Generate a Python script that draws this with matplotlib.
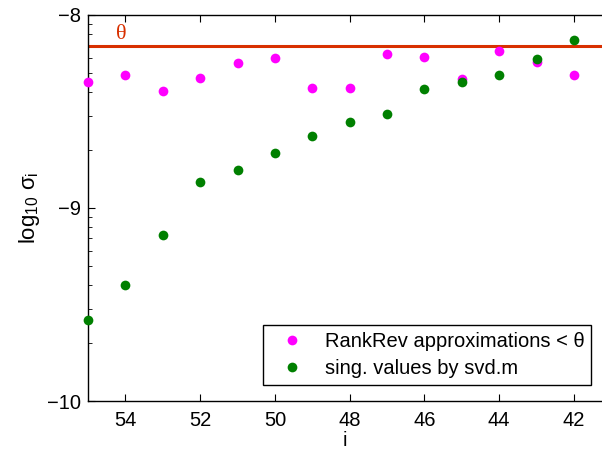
import numpy as np
import matplotlib
matplotlib.use("Agg")
import matplotlib.pyplot as plt
from matplotlib.ticker import FixedLocator, FuncFormatter, LogLocator, NullFormatter

plt.rcParams['font.family'] = ['Liberation Sans', 'DejaVu Sans']
plt.rcParams['mathtext.fontset'] = 'custom'
plt.rcParams['mathtext.rm'] = 'Liberation Sans'
plt.rcParams['mathtext.it'] = 'Liberation Sans'

# index i (reversed axis) and log10 of the values
idx = [55, 54, 53, 52, 51, 50, 49, 48, 47, 46, 45, 44, 43, 42]
rankrev = [-8.345, -8.311, -8.394, -8.326, -8.249, -8.224, -8.380,
           -8.378, -8.202, -8.216, -8.333, -8.185, -8.242, -8.311]
svd_vals = [-9.580, -9.399, -9.140, -8.867, -8.801, -8.717, -8.627,
            -8.556, -8.511, -8.385, -8.349, -8.311, -8.226, -8.128]
theta = -8.161
xticks = [54, 52, 50, 48, 46, 44, 42]

fig = plt.figure(figsize=(6.02, 4.49), dpi=100)
ax = fig.add_axes([0.1462, 0.1069, 0.8538, 0.8597])

ax.axhline(10 ** theta, color='#D83000', lw=2.2, zorder=2)
ax.text(54.1, 10 ** (theta + 0.012), r'θ', color='#D83000', fontsize=16,
        family='Liberation Serif', ha='center', va='bottom')

ax.plot(idx, 10 ** np.array(rankrev), 'o', color='#FF00FF', ms=7, mew=0,
        clip_on=False, zorder=3, label=r'RankRev approximations < θ')
ax.plot(idx, 10 ** np.array(svd_vals), 'o', color='#008000', ms=7, mew=0,
        clip_on=False, zorder=4, label='sing. values by svd.m')

ax.set_yscale('log')
ax.set_ylim(1e-10, 1e-8)
ax.set_xlim(55, 41.25)
ax.yaxis.set_major_locator(FixedLocator([1e-10, 1e-9, 1e-8]))
ax.yaxis.set_major_formatter(FuncFormatter(lambda v, p: '\u2212%d' % round(-np.log10(v))))
ax.yaxis.set_minor_locator(LogLocator(base=10, subs=np.arange(2, 10)))
ax.yaxis.set_minor_formatter(NullFormatter())
ax.set_xticks(xticks)

ax.spines['right'].set_visible(False)
for s in ['left', 'bottom', 'top']:
    ax.spines[s].set_linewidth(1.0)
ax.tick_params(which='both', direction='in', top=True, right=False, labelsize=14.5)
ax.tick_params(which='major', length=5, width=0.8)
ax.tick_params(which='minor', length=3, width=0.6)
ax.tick_params(axis='x', pad=7)
ax.tick_params(axis='y', pad=5)

ax.set_xlabel('i', fontsize=14.5, labelpad=1)
ax.set_ylabel(r'log$_{10}$ σ$_{\rm i}$', fontsize=16, labelpad=4)

leg = ax.legend(loc='lower right', bbox_to_anchor=(0.979, 0.041), fontsize=14.5,
                frameon=True, fancybox=False, edgecolor='black', framealpha=1,
                handletextpad=0.5, borderpad=0.35, labelspacing=0.4,
                handlelength=2.2, borderaxespad=0)
leg.get_frame().set_linewidth(1.0)

fig.savefig('out.png', dpi=100)
